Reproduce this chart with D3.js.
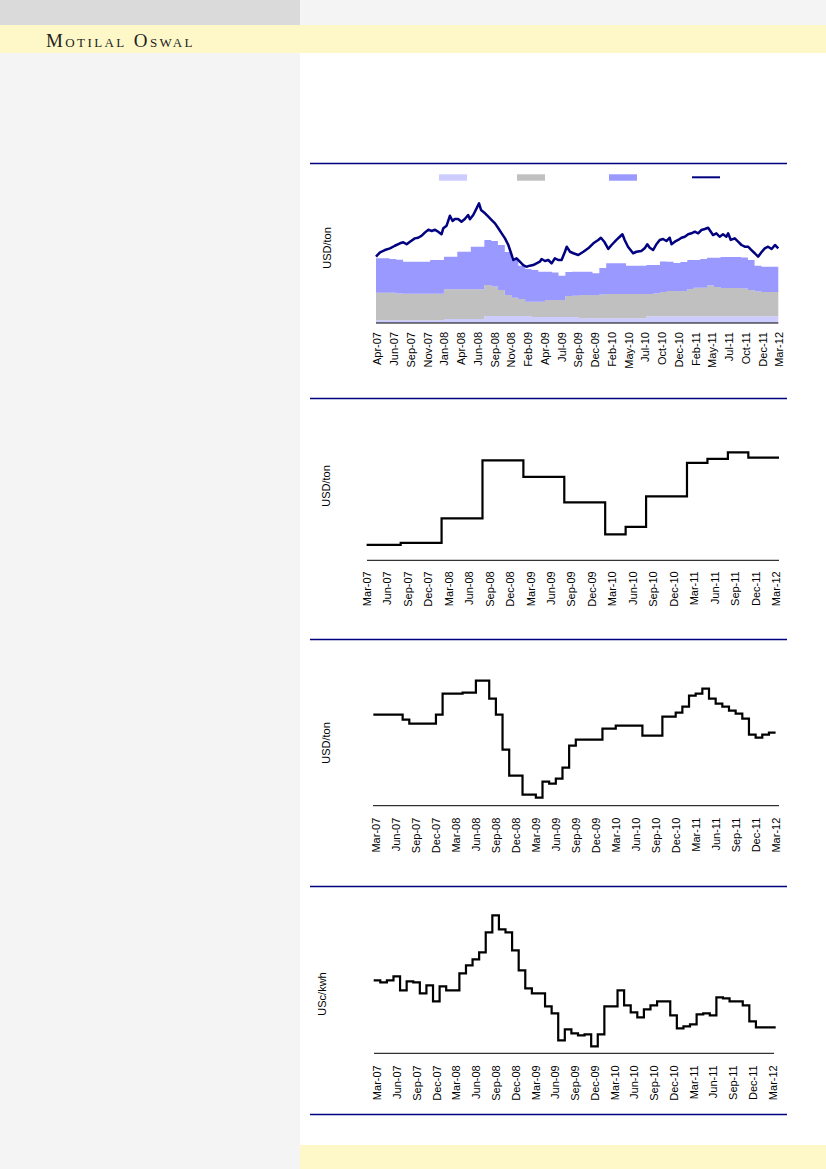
<!DOCTYPE html>
<html>
<head>
<meta charset="utf-8">
<script src="https://cdn.jsdelivr.net/npm/d3@7"></script>
<style>
  body { margin: 0; background: #fff; }
  svg { display: block; }
  .tick text { font-family: "Liberation Sans", Arial, sans-serif; font-size: 11px; fill: #000; }
  .y-label { font-family: "Liberation Sans", Arial, sans-serif; font-size: 11px; fill: #000; }
</style>
</head>
<body>
<div id="vis"></div>
<script>
// ---------- data ----------
// chart 1: daily price line (sampled) and monthly stacked cost areas
const priceDates = [
  "2007-04-01","2007-04-19","2007-05-11","2007-06-03","2007-06-25","2007-07-18","2007-08-02","2007-08-17","2007-09-01","2007-09-23",
  "2007-10-08","2007-10-24","2007-11-08","2007-11-23","2007-12-08","2007-12-23","2008-01-06","2008-01-21","2008-01-29","2008-02-13",
  "2008-02-28","2008-03-11","2008-03-21","2008-04-05","2008-04-20","2008-05-05","2008-05-20","2008-05-28","2008-06-12","2008-06-27",
  "2008-07-08","2008-07-17","2008-08-04","2008-08-19","2008-09-03","2008-09-18","2008-10-03","2008-10-18","2008-11-02","2008-11-17",
  "2008-12-02","2008-12-09","2008-12-24","2009-01-08","2009-01-23","2009-02-07","2009-02-22","2009-03-09","2009-03-24","2009-04-08",
  "2009-04-16","2009-05-01","2009-05-16","2009-05-31","2009-06-15","2009-06-30","2009-07-15","2009-07-30","2009-08-07","2009-08-22",
  "2009-09-06","2009-09-28","2009-10-21","2009-11-12","2009-12-05","2009-12-27","2010-01-08","2010-01-23","2010-02-10","2010-02-25",
  "2010-03-19","2010-04-03","2010-04-15","2010-04-25","2010-05-10","2010-06-02","2010-06-17","2010-07-09","2010-07-24","2010-08-05",
  "2010-08-16","2010-08-31","2010-09-15","2010-09-30","2010-10-15","2010-10-30","2010-11-14","2010-11-22","2010-12-07","2010-12-22",
  "2011-01-06","2011-01-21","2011-02-05","2011-02-20","2011-03-07","2011-03-22","2011-04-06","2011-04-21","2011-05-06","2011-05-18",
  "2011-05-28","2011-06-12","2011-06-27","2011-07-12","2011-07-27","2011-08-04","2011-08-16","2011-09-03","2011-09-18","2011-10-03",
  "2011-10-18","2011-11-02","2011-11-17","2011-12-02","2011-12-17","2012-01-01","2012-01-16","2012-01-31","2012-02-16","2012-03-02",
  "2012-03-17"
];
const priceValues = [
  619,660,681,697,721,744,753,735,759,790,
  796,815,846,871,859,871,852,828,884,908,
  1001,952,971,971,945,971,1008,968,1008,1070,
  1117,1055,1024,992,961,930,884,837,790,728,
  635,588,604,572,541,525,535,541,557,572,
  597,579,588,557,604,588,588,665,712,665,
  651,635,665,697,744,775,796,759,691,728,
  775,805,828,775,712,651,665,672,697,735,
  703,681,735,775,784,765,796,735,759,775,
  796,805,828,837,852,837,868,877,889,852,
  821,837,805,828,805,837,775,790,759,728,
  712,712,681,651,619,660,697,712,691,728,
  697
];

const costMonths = [
  "Apr-07","May-07","Jun-07","Jul-07","Aug-07","Sep-07","Oct-07","Nov-07","Dec-07","Jan-08",
  "Feb-08","Mar-08","Apr-08","May-08","Jun-08","Jul-08","Aug-08","Sep-08","Oct-08","Nov-08",
  "Dec-08","Jan-09","Feb-09","Mar-09","Apr-09","May-09","Jun-09","Jul-09","Aug-09","Sep-09",
  "Oct-09","Nov-09","Dec-09","Jan-10","Feb-10","Mar-10","Apr-10","May-10","Jun-10","Jul-10",
  "Aug-10","Sep-10","Oct-10","Nov-10","Dec-10","Jan-11","Feb-11","Mar-11","Apr-11","May-11",
  "Jun-11","Jul-11","Aug-11","Sep-11","Oct-11","Nov-11","Dec-11","Jan-12","Feb-12","Mar-12"
];
const otherCost = [
  25,25,25,25,25,25,25,25,25,25, 37,37,37,37,37,37,65,65,65,65,
  65,65,65,56,56,56,56,56,56,56, 44,44,44,44,44,44,44,44,44,44,
  63,63,63,63,63,63,63,63,63,63, 63,63,63,63,63,63,63,63,63,63
];
const coalCost = [
  258,258,258,250,248,248,248,248,248,248, 277,277,277,277,277,277,289,275,243,196,
  171,159,133,143,143,159,159,159,196,199, 217,217,217,222,227,227,227,227,227,227,
  208,213,227,236,236,236,255,267,267,287, 273,264,264,264,259,245,231,227,227,227
];
const oreCost = [
  321,321,315,315,299,299,299,299,315,315, 304,304,351,351,398,398,420,425,420,401,
  352,311,305,296,280,264,257,227,224,224, 217,217,203,247,287,287,287,264,264,264,
  271,266,283,273,261,271,271,259,268,259, 273,289,289,289,289,280,241,236,236,236
];
const chart1Ticks = [
  "Apr-07","Jun-07","Sep-07","Nov-07","Jan-08","Apr-08","Jun-08","Sep-08","Nov-08","Feb-09",
  "Apr-09","Jul-09","Sep-09","Dec-09","Feb-10","May-10","Jul-10","Oct-10","Dec-10","Feb-11",
  "May-11","Jul-11","Oct-11","Dec-11","Mar-12"
];

// charts 2-4: monthly series, Mar-07 .. Mar-12
const stepMonths = ["Mar-07"].concat(costMonths);
const quarterTicks = [
  "Mar-07","Jun-07","Sep-07","Dec-07","Mar-08","Jun-08","Sep-08","Dec-08","Mar-09","Jun-09","Sep-09",
  "Dec-09","Mar-10","Jun-10","Sep-10","Dec-10","Mar-11","Jun-11","Sep-11","Dec-11","Mar-12"
];
const contractPrice = [
  63,63,63,63,63, 66,66,66,66,66,66, 103,103,103,103,103,103, 190,190,190,190,190,190,
  165,165,165,165,165,165, 127,127,127,127,127,127, 79,79,79, 90,90,90,
  136,136,136,136,136,136, 186,186,186, 192,192,192, 202,202,202, 194,194,194,194,194
];
const spotPrice = [
  131,131,131,131,126,122,122,122,122,131, 152,152,152,153,153,165,165,147,131,96,
  70,70,51,51,48,64,62,67,78,100, 106,106,106,106,117,117,120,120,120,120,
  110,110,110,129,129,133,139,150,152,157, 147,142,139,135,132,127,111,108,111,113
];
const powerPrice = [
  9.3,9.1,9.3,9.7,8.3,9.2,9.1,8.0,8.8,7.2, 8.7,8.3,8.3,10.0,10.8,11.4,12.1,14.1,15.8,14.4,
  14.1,12.3,10.3,8.5,8.0,8.0,6.7,6.0,3.3,4.4, 4.0,3.8,3.9,2.7,3.9,6.7,6.7,8.3,6.8,6.1,
  5.6,6.4,6.8,7.2,7.2,5.8,4.5,4.7,4.9,5.9, 6.0,5.8,7.6,7.5,7.2,7.2,6.8,5.2,4.6,4.6,4.6
];

// ---------- page ----------
const W = 826, H = 1169;
const ruleColor = '#000080';
const parseDay = d3.timeParse('%Y-%m-%d');
const parseMonth = d3.timeParse('%b-%y');

const svg = d3.select('#vis')
  .append('svg')
  .attr('width', W)
  .attr('height', H);

svg.append('rect').attr('x', 0).attr('y', 0).attr('width', W).attr('height', H).attr('fill', '#fff');
svg.append('rect').attr('x', 0).attr('y', 0).attr('width', 300).attr('height', 25).attr('fill', '#dadada');
svg.append('rect').attr('x', 300).attr('y', 0).attr('width', W - 300).attr('height', 25).attr('fill', '#f4f4f4');
svg.append('rect').attr('x', 0).attr('y', 53).attr('width', 300).attr('height', H - 53).attr('fill', '#f4f4f4');
svg.append('rect').attr('x', 0).attr('y', 25).attr('width', W).attr('height', 28).attr('fill', '#fef8c8');
svg.append('rect').attr('x', 300).attr('y', 1145).attr('width', W - 300).attr('height', H - 1145).attr('fill', '#fef8c8');

svg.append('text')
  .attr('x', 46)
  .attr('y', 47)
  .style('font-family', '"Liberation Serif", "DejaVu Serif", serif')
  .style('font-size', '19px')
  .style('font-variant', 'small-caps')
  .style('letter-spacing', '2.4px')
  .style('fill', '#222')
  .text('Motilal Oswal');

// section rules
[163.5, 398.5, 639.5, 886.5, 1114.5].forEach(yy => {
  svg.append('line')
    .attr('x1', 310).attr('x2', 787)
    .attr('y1', yy).attr('y2', yy)
    .attr('stroke', ruleColor)
    .attr('stroke-width', 1.3);
});

function yLabel(text, cx, cy) {
  svg.append('text')
    .attr('class', 'y-label')
    .attr('text-anchor', 'middle')
    .attr('transform', `translate(${cx},${cy}) rotate(-90)`)
    .attr('dy', '0.35em')
    .text(text);
}

function rotateLabels(axisG, gap) {
  axisG.select('.domain').remove();
  axisG.selectAll('.tick line').remove();
  axisG.selectAll('.tick text')
    .attr('x', -gap)
    .attr('y', 0)
    .attr('dy', '0.35em')
    .attr('transform', 'rotate(-90)')
    .style('text-anchor', 'end');
}

// ---------- chart 1 ----------
const c1 = { left: 376, right: 778.3, base: 323 };
const endDate1 = parseDay('2012-03-17');
const x1 = d3.scaleTime()
  .domain([parseMonth('Apr-07'), endDate1])
  .range([c1.left, c1.right]);
const y1 = d3.scaleLinear().domain([0, 1400]).range([c1.base, c1.base - 150]);

const costRows = costMonths.map((m, i) => ({
  date: parseMonth(m), other: otherCost[i], coal: coalCost[i], ore: oreCost[i]
}));
costRows.push(Object.assign({}, costRows[costRows.length - 1], { date: endDate1 }));

const costKeys = ['other', 'coal', 'ore'];
const costColor = d3.scaleOrdinal().domain(costKeys).range(['#ccccff', '#c0c0c0', '#9999ff']);
const stacked = d3.stack().keys(costKeys)(costRows);

const area1 = d3.area()
  .curve(d3.curveStepAfter)
  .x(d => x1(d.data.date))
  .y0(d => y1(d[0]))
  .y1(d => y1(d[1]));

svg.append('g').selectAll('path')
  .data(stacked)
  .join('path')
  .attr('d', area1)
  .attr('fill', d => costColor(d.key));

const priceLine = d3.line()
  .x((d, i) => x1(parseDay(priceDates[i])))
  .y(d => y1(d));

svg.append('path')
  .datum(priceValues)
  .attr('d', priceLine)
  .attr('fill', 'none')
  .attr('stroke', '#000080')
  .attr('stroke-width', 2.5)
  .attr('stroke-linejoin', 'round');

svg.append('line')
  .attr('x1', c1.left).attr('x2', c1.right)
  .attr('y1', c1.base).attr('y2', c1.base)
  .attr('stroke', '#000').attr('stroke-width', 1);

const xt1 = d3.scalePoint().domain(chart1Ticks).range([377, 779]);
const ax1 = svg.append('g')
  .attr('transform', `translate(0,${c1.base})`)
  .call(d3.axisBottom(xt1).tickSize(0));
rotateLabels(ax1, 9);

yLabel('USD/ton', 327, 248);

// legend (swatches only)
const legendItems = [
  { type: 'rect', x: 439, color: '#ccccff' },
  { type: 'rect', x: 517, color: '#c0c0c0' },
  { type: 'rect', x: 609, color: '#9999ff' },
  { type: 'line', x: 692, color: '#000080' }
];
legendItems.forEach(it => {
  if (it.type === 'rect') {
    svg.append('rect').attr('x', it.x).attr('y', 174.3).attr('width', 28).attr('height', 6.4).attr('fill', it.color);
  } else {
    svg.append('line').attr('x1', it.x).attr('x2', it.x + 28).attr('y1', 177.3).attr('y2', 177.3)
      .attr('stroke', it.color).attr('stroke-width', 2);
  }
});

// ---------- charts 2-4 ----------
function drawStepChart(cfg) {
  const x = d3.scaleLinear().domain([0, 60]).range([cfg.x0, cfg.x60]);
  const y = d3.scaleLinear().domain(cfg.yDomain).range([cfg.base, cfg.base - cfg.h]);

  const pts = cfg.values.map((v, i) => [i, v]);
  pts.unshift([cfg.start, cfg.values[0]]);
  pts.push([cfg.end, cfg.values[cfg.values.length - 1]]);

  const line = d3.line()
    .curve(cfg.curve)
    .x(d => x(d[0]))
    .y(d => y(d[1]));

  svg.append('path')
    .datum(pts)
    .attr('d', line)
    .attr('fill', 'none')
    .attr('stroke', '#000')
    .attr('stroke-width', 2.2);

  svg.append('line')
    .attr('x1', cfg.axisLeft).attr('x2', cfg.axisRight)
    .attr('y1', cfg.base).attr('y2', cfg.base)
    .attr('stroke', '#000').attr('stroke-width', 1);

  const ax = svg.append('g')
    .attr('transform', `translate(0,${cfg.base})`)
    .call(d3.axisBottom(x)
      .tickValues(quarterTicks.map(t => stepMonths.indexOf(t)))
      .tickFormat(i => stepMonths[i])
      .tickSize(0));
  rotateLabels(ax, cfg.gap);

  yLabel(cfg.label, cfg.labelX, cfg.labelY);
}

drawStepChart({
  values: contractPrice, curve: d3.curveStepAfter, start: 0, end: 60.5,
  x0: 366.6, x60: 775.6, axisLeft: 367, axisRight: 779,
  base: 560.3, yDomain: [40, 220], h: 120, gap: 11,
  label: 'USD/ton', labelX: 326, labelY: 486
});

drawStepChart({
  values: spotPrice, curve: d3.curveStepAfter, start: -0.4, end: 60,
  x0: 376, x60: 775.6, axisLeft: 373, axisRight: 779,
  base: 805.7, yDomain: [40, 180], h: 140, gap: 12,
  label: 'USD/ton', labelX: 326, labelY: 743
});

drawStepChart({
  values: powerPrice, curve: d3.curveStep, start: -0.5, end: 60.5,
  x0: 377, x60: 772.4, axisLeft: 374, axisRight: 774,
  base: 1053.3, yDomain: [2, 18], h: 160, gap: 12,
  label: 'USc/kwh', labelX: 322.5, labelY: 994
});
</script>
</body>
</html>
